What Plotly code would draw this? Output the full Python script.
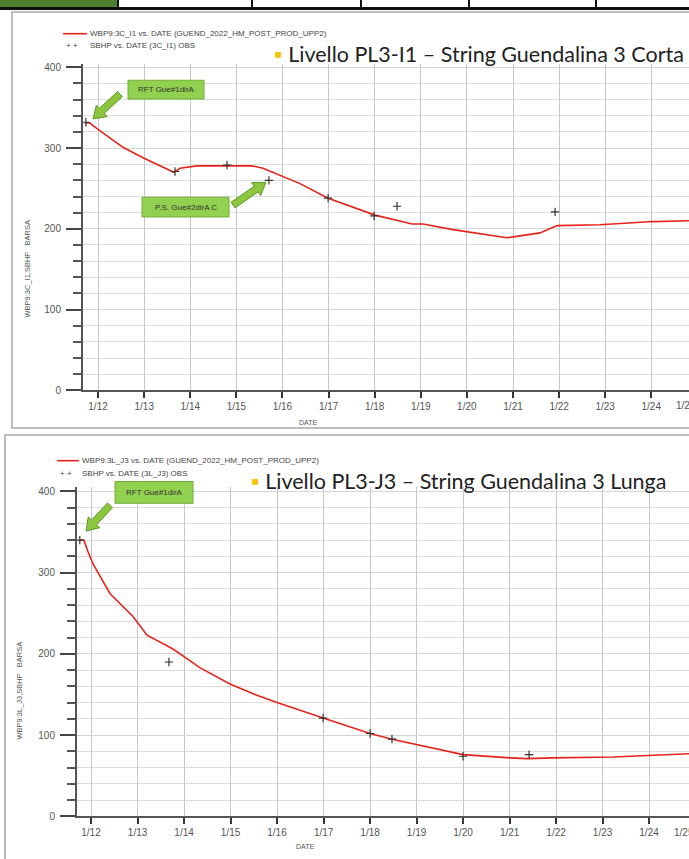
import math
import plotly.graph_objects as go

W, H = 689, 859

# ---------------- DATA ----------------
top_sim_dates = ["2011-09-19", "2011-10-29", "2011-12-24", "2012-07-17", "2012-12-22",
                 "2013-08-24", "2013-10-12", "2014-02-23", "2014-10-19", "2015-05-05",
                 "2015-07-31", "2015-11-03", "2016-05-19", "2016-12-28", "2017-07-13",
                 "2018-01-04", "2018-10-24", "2019-01-19", "2019-09-13", "2020-11-14",
                 "2021-08-03", "2021-11-06", "2021-12-16", "2022-11-20", "2024-01-15",
                 "2024-10-26"]
top_sim_values = [331, 331, 324, 301, 288, 270, 275, 278, 278, 278, 275, 269, 256, 238,
                  227, 217, 206, 206, 199, 189, 195, 202, 204, 205, 209, 210]

top_obs_dates = ["2011-09-27", "2013-09-02", "2014-10-19", "2015-09-16", "2016-12-28",
                 "2017-12-27", "2018-06-27", "2021-11-30"]
top_obs_values = [332, 271, 279, 260, 238, 216, 228, 221]

bot_sim_dates = ["2011-10-05", "2011-11-06", "2011-12-08", "2012-01-16", "2012-05-30",
                 "2012-11-26", "2013-03-16", "2013-10-06", "2014-05-05", "2014-12-27",
                 "2015-07-27", "2016-01-01", "2016-12-28", "2018-01-01", "2018-06-22",
                 "2020-01-01", "2021-01-05", "2021-05-18", "2021-12-08", "2023-03-24",
                 "2024-11-10"]
bot_sim_values = [340, 340, 326, 311, 274, 246, 223, 206, 183, 163, 149, 140, 121, 102,
                  95, 76, 72, 71, 72, 73, 77]

bot_obs_dates = ["2011-10-05", "2013-09-04", "2016-12-28", "2018-01-01", "2018-06-22",
                 "2020-01-01", "2021-06-03"]
bot_obs_values = [340, 190, 121, 102, 95, 74, 76]

top_sim_name = "WBP9:3C_I1 vs. DATE (GUEND_2022_HM_POST_PROD_UPP2)"
top_obs_name = "SBHP vs. DATE (3C_I1) OBS"
bot_sim_name = "WBP9:3L_J3 vs. DATE (GUEND_2022_HM_POST_PROD_UPP2)"
bot_obs_name = "SBHP vs. DATE (3L_J3) OBS"
top_title = "Livello PL3-I1 – String Guendalina 3 Corta"
bot_title = "Livello PL3-J3 – String Guendalina 3 Lunga"
top_ytitle = "WBP9:3C_I1,SBHP   BARSA"
bot_ytitle = "WBP9:3L_J3,SBHP   BARSA"
xtitle = "DATE"
top_notes = ["RFT Gue#1dirA", "P.S. Gue#2dirA C"]
bot_notes = ["RFT Gue#1dirA"]
edge_tick_label = "1/25"

# ---------------- helpers ----------------
def px(x):
    return x / W

def py(y):
    return 1 - y / H

RED = "#e8231c"
FONT = "Liberation Sans"

fig = go.Figure()

fig.add_trace(go.Scatter(x=top_sim_dates, y=top_sim_values, mode="lines",
                         line=dict(color=RED, width=1.6), name=top_sim_name,
                         xaxis="x", yaxis="y", showlegend=False))
fig.add_trace(go.Scatter(x=top_obs_dates, y=top_obs_values, mode="markers",
                         marker=dict(symbol="cross-thin", size=6, line=dict(color="#333", width=1.2)),
                         name=top_obs_name, xaxis="x", yaxis="y", showlegend=False))
fig.add_trace(go.Scatter(x=bot_sim_dates, y=bot_sim_values, mode="lines",
                         line=dict(color=RED, width=1.6), name=bot_sim_name,
                         xaxis="x2", yaxis="y2", showlegend=False))
fig.add_trace(go.Scatter(x=bot_obs_dates, y=bot_obs_values, mode="markers",
                         marker=dict(symbol="cross-thin", size=6, line=dict(color="#333", width=1.2)),
                         name=bot_obs_name, xaxis="x2", yaxis="y2", showlegend=False))

def xaxis_cfg(rng, dom, anchor):
    return dict(type="date", range=rng, domain=dom, anchor=anchor,
                tick0="2012-01-01", dtick="M12", tickformat="%-m/%y",
                showgrid=True, gridcolor="#c6c6c6", gridwidth=1,
                ticks="outside", ticklen=6, tickwidth=2, tickcolor="#333",
                showline=True, linecolor="#555", linewidth=2, zeroline=False,
                tickfont=dict(family=FONT, size=10, color="#555"))

def yaxis_cfg(rng, dom, anchor):
    return dict(range=rng, domain=dom, anchor=anchor, dtick=100, tick0=0,
                showgrid=True, gridcolor="#d4d4d4", gridwidth=1,
                ticks="outside", ticklen=15, tickwidth=2, tickcolor="#444",
                ticklabelstandoff=3,
                minor=dict(dtick=20, ticks="outside", ticklen=8, tickwidth=1.5,
                           tickcolor="#555", showgrid=True, gridcolor="#dcdcdc", gridwidth=1),
                showline=True, linecolor="#555", linewidth=2, zeroline=False,
                tickfont=dict(family=FONT, size=10, color="#555"))

fig.update_layout(
    width=W, height=H, margin=dict(l=0, r=0, t=0, b=0),
    paper_bgcolor="white", plot_bgcolor="white", showlegend=False,
    xaxis=xaxis_cfg(["2011-09-04", "2024-10-26"], [px(83), 1], "y"),
    yaxis=yaxis_cfg([0, 404], [py(392), py(62.7)], "x"),
    xaxis2=xaxis_cfg(["2011-09-13", "2024-11-10"], [px(77), 1], "y2"),
    yaxis2=yaxis_cfg([0, 405], [py(822), py(489.9)], "x2"),
)

shapes = []
anns = []

# table border fragment at very top
shapes.append(dict(type="rect", xref="paper", yref="paper", x0=px(0), x1=px(118),
                   y0=py(5), y1=py(-2), fillcolor="#4f7f2f", line=dict(width=0)))
shapes.append(dict(type="rect", xref="paper", yref="paper", x0=px(0), x1=px(700),
                   y0=py(8), y1=py(5), fillcolor="#111", line=dict(width=0)))
for sx in [118, 252, 361, 469, 596]:
    shapes.append(dict(type="line", xref="paper", yref="paper", x0=px(sx), x1=px(sx),
                       y0=py(-2), y1=py(8), line=dict(color="#111", width=2)))

# panel frames
shapes.append(dict(type="rect", xref="paper", yref="paper", x0=px(12), x1=px(720),
                   y0=py(430), y1=py(10), line=dict(color="#a8a8a8", width=1.5), layer="below"))
shapes.append(dict(type="rect", xref="paper", yref="paper", x0=px(5), x1=px(720),
                   y0=py(900), y1=py(437), line=dict(color="#a8a8a8", width=1.5), layer="below"))

def arrow(x0, y0, x1, y1, shaft=7, head=16, hlen=12):
    dx, dy = x1 - x0, y1 - y0
    L = math.hypot(dx, dy)
    ux, uy = dx / L, dy / L
    nx, ny = -uy, ux
    bx, by = x1 - ux * hlen, y1 - uy * hlen
    pts = [(x0 + nx * shaft / 2, y0 + ny * shaft / 2),
           (bx + nx * shaft / 2, by + ny * shaft / 2),
           (bx + nx * head / 2, by + ny * head / 2),
           (x1, y1),
           (bx - nx * head / 2, by - ny * head / 2),
           (bx - nx * shaft / 2, by - ny * shaft / 2),
           (x0 - nx * shaft / 2, y0 - ny * shaft / 2)]
    path = "M " + " L ".join(f"{px(a):.5f},{py(b):.5f}" for a, b in pts) + " Z"
    return dict(type="path", xref="paper", yref="paper", path=path,
                fillcolor="#8cc63f", line=dict(color="#5f9b2e", width=1))

GREEN_FILL = "#92d050"
GREEN_LINE = "#74ad3c"

def note_box(x0, y0, x1, y1, text):
    shapes.append(dict(type="rect", xref="paper", yref="paper", x0=px(x0), x1=px(x1),
                       y0=py(y1), y1=py(y0), fillcolor=GREEN_FILL,
                       line=dict(color=GREEN_LINE, width=1)))
    anns.append(dict(xref="paper", yref="paper", x=px((x0 + x1) / 2), y=py((y0 + y1) / 2),
                     text=text, showarrow=False, xanchor="center", yanchor="middle",
                     font=dict(family=FONT, size=8, color="#333")))

note_box(128, 79, 204, 98, top_notes[0])
shapes.append(arrow(120, 93, 93, 118))
note_box(142, 197, 229, 217, top_notes[1])
shapes.append(arrow(233, 205, 266, 182))
note_box(115, 484, 193, 506, bot_notes[0])
shapes.append(arrow(110, 508, 86, 534))

def legend(y1, y2, x_line0, x_line1, sim_name, obs_name):
    shapes.append(dict(type="line", xref="paper", yref="paper", x0=px(x_line0), x1=px(x_line1),
                       y0=py(y1), y1=py(y1), line=dict(color=RED, width=1.6)))
    anns.append(dict(xref="paper", yref="paper", x=px(x_line1 + 1), y=py(y1), text=sim_name,
                     showarrow=False, xanchor="left", yanchor="middle",
                     font=dict(family=FONT, size=8, color="#444")))
    anns.append(dict(xref="paper", yref="paper", x=px(x_line0 + 1), y=py(y2), text="+ +",
                     showarrow=False, xanchor="left", yanchor="middle",
                     font=dict(family=FONT, size=8, color="#333")))
    anns.append(dict(xref="paper", yref="paper", x=px(x_line1 + 1), y=py(y2), text=obs_name,
                     showarrow=False, xanchor="left", yanchor="middle",
                     font=dict(family=FONT, size=8, color="#444")))

legend(32, 44, 63, 87, top_sim_name, top_obs_name)
legend(463, 476, 57, 79, bot_sim_name, bot_obs_name)

def title(x, y, text):
    anns.append(dict(xref="paper", yref="paper", x=px(x), y=py(y),
                     text="<span style='color:#f5c400'>▪</span> " + text,
                     showarrow=False, xanchor="left", yanchor="middle",
                     font=dict(family="Lato", size=21.5, color="#222")))

title(272, 52, top_title)
title(249, 484, bot_title)

# y-axis titles
anns.append(dict(xref="paper", yref="paper", x=px(27), y=py(270), text=top_ytitle,
                 textangle=-90, showarrow=False, xanchor="center", yanchor="middle",
                 font=dict(family=FONT, size=7.5, color="#555")))
anns.append(dict(xref="paper", yref="paper", x=px(20), y=py(695), text=bot_ytitle,
                 textangle=-90, showarrow=False, xanchor="center", yanchor="middle",
                 font=dict(family=FONT, size=7.5, color="#555")))
# x-axis titles
anns.append(dict(xref="paper", yref="paper", x=px(308), y=py(424), text=xtitle,
                 showarrow=False, xanchor="center", yanchor="middle",
                 font=dict(family=FONT, size=7, color="#555")))
anns.append(dict(xref="paper", yref="paper", x=px(305), y=py(852), text=xtitle,
                 showarrow=False, xanchor="center", yanchor="middle",
                 font=dict(family=FONT, size=7, color="#555")))
# partially visible last tick labels at right edge
anns.append(dict(xref="paper", yref="paper", x=px(674), y=py(407), text=edge_tick_label,
                 showarrow=False, xanchor="left", yanchor="middle",
                 font=dict(family=FONT, size=10, color="#555")))
anns.append(dict(xref="paper", yref="paper", x=px(672), y=py(838), text=edge_tick_label,
                 showarrow=False, xanchor="left", yanchor="middle",
                 font=dict(family=FONT, size=10, color="#555")))

fig.update_layout(shapes=shapes, annotations=anns)
fig.write_html("out.html", config={"displayModeBar": False},
               post_script="document.body.style.margin='0';document.body.style.overflow='hidden';")
